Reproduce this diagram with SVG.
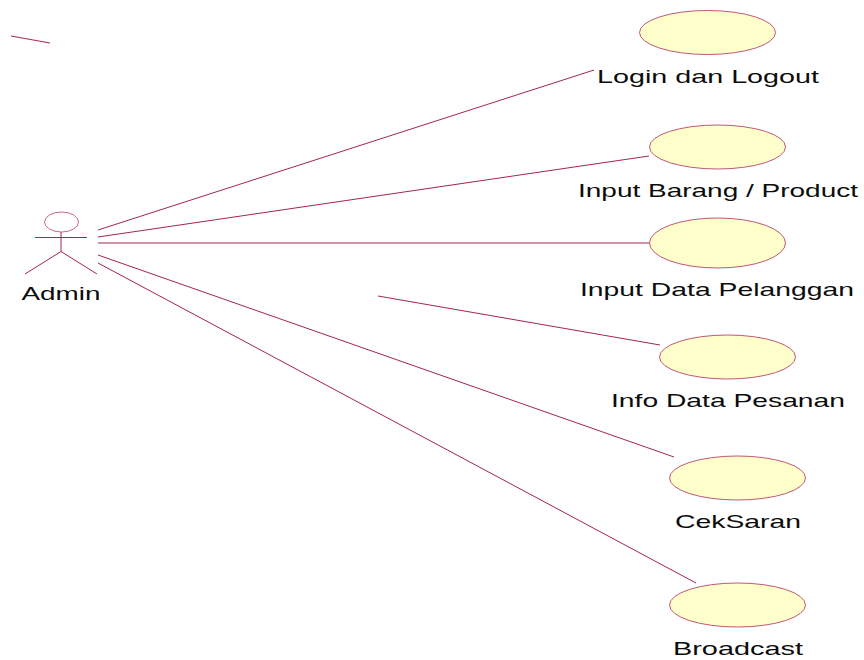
<svg xmlns="http://www.w3.org/2000/svg" width="864" height="660" viewBox="0 0 864 660">
<style>
.l{stroke:#a5254f;stroke-width:1;fill:none}
.u{fill:#ffffcb;stroke:#b8446a;stroke-width:.9}
text{font-family:"Liberation Sans",Arial,sans-serif;font-size:19px;fill:#0c0c0c;text-anchor:middle}
</style>
<rect width="864" height="660" fill="#fff"/>
<g id="connectors" class="l">
<path d="M11 36L50 43"/>
<path d="M98 230L594 70"/>
<path d="M98 237L649 156"/>
<path d="M98 243L649 243"/>
<path d="M378 296L660 345"/>
<path d="M98 255L674 457"/>
<path d="M98 263L696 583"/>
</g>
<g id="admin">
<ellipse cx="61.500" cy="222" rx="17" ry="10" fill="#fff" stroke="#c4557a" stroke-width=".9"/>
<path class="l" d="M35 237.500H87M61 232V251.500M61 251.500L25 274M61 251.500L97 274"/>
<text x="61" y="300" textLength="79" lengthAdjust="spacingAndGlyphs">Admin</text>
</g>
<g id="login"><ellipse class="u" cx="707.500" cy="32.500" rx="68" ry="22"/><text x="708" y="83" textLength="222" lengthAdjust="spacingAndGlyphs">Login dan Logout</text></g>
<g id="input-barang"><ellipse class="u" cx="717.500" cy="147" rx="68" ry="22"/><text x="718" y="197" textLength="280" lengthAdjust="spacingAndGlyphs">Input Barang / Product</text></g>
<g id="input-data"><ellipse class="u" cx="717.500" cy="243" rx="68" ry="25"/><text x="717" y="296" textLength="274" lengthAdjust="spacingAndGlyphs">Input Data Pelanggan</text></g>
<g id="info-data"><ellipse class="u" cx="727.500" cy="357" rx="68" ry="22"/><text x="728" y="407" textLength="234" lengthAdjust="spacingAndGlyphs">Info Data Pesanan</text></g>
<g id="ceksaran"><ellipse class="u" cx="737.500" cy="478" rx="68" ry="22"/><text x="738" y="528" textLength="126" lengthAdjust="spacingAndGlyphs">CekSaran</text></g>
<g id="broadcast"><ellipse class="u" cx="737.500" cy="605" rx="68" ry="22"/><text x="738" y="655" textLength="130" lengthAdjust="spacingAndGlyphs">Broadcast</text></g>
</svg>
